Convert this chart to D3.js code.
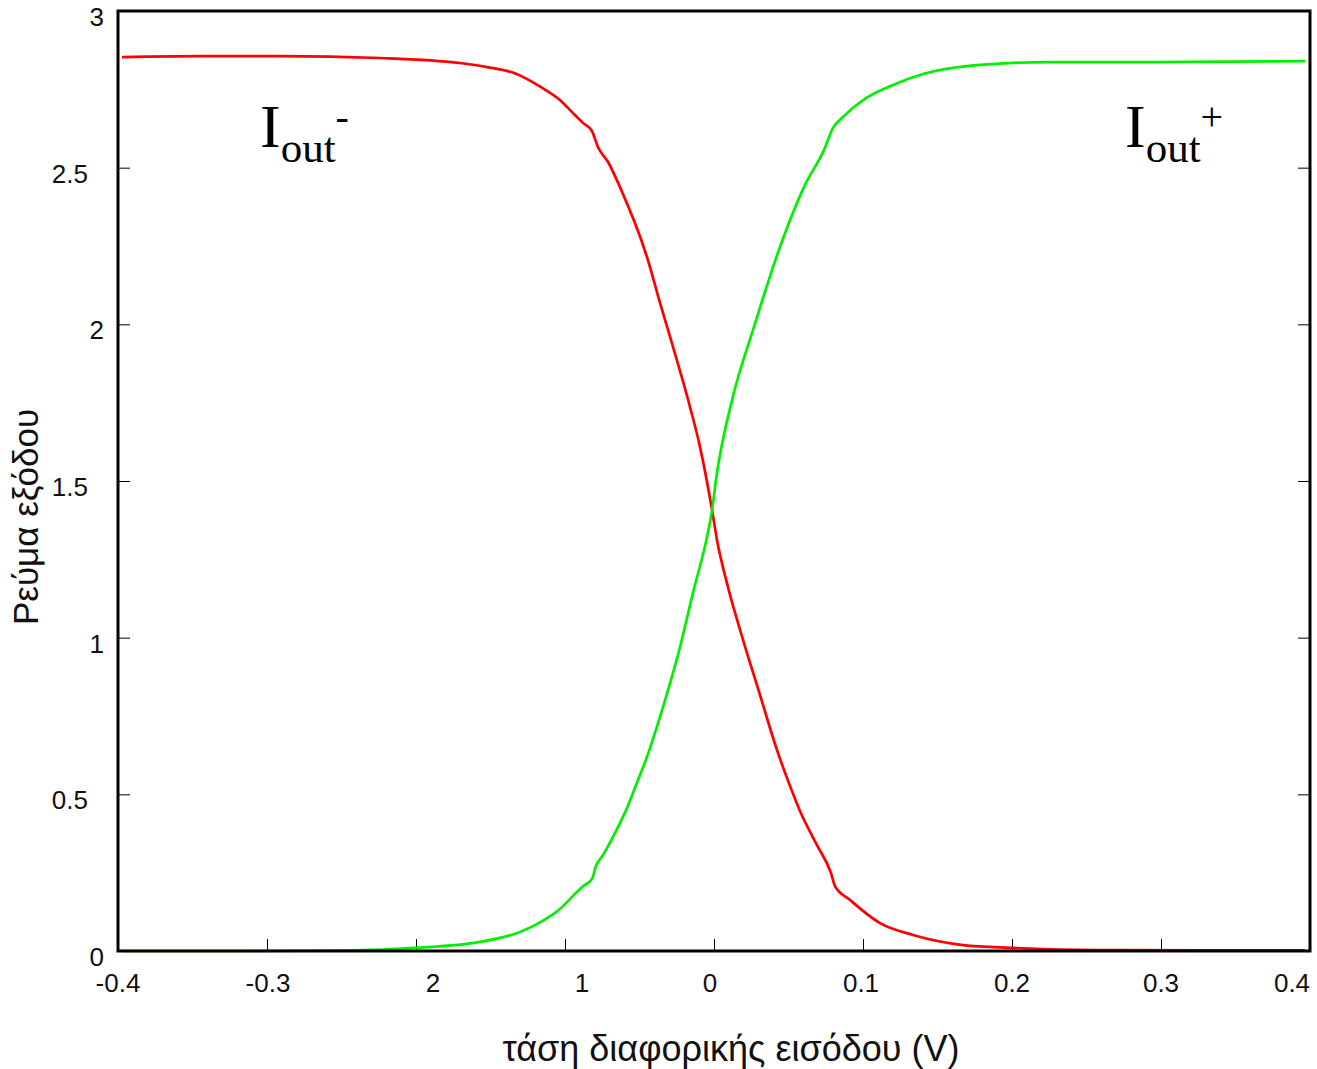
<!DOCTYPE html>
<html>
<head>
<meta charset="utf-8">
<script src="https://cdn.jsdelivr.net/npm/d3@7"></script>
<style>
  html, body { margin: 0; padding: 0; background: #fff; }
  svg { display: block; }
</style>
</head>
<body>
<svg id="chart" width="1317" height="1069"></svg>
<script>
// Differential pair output currents versus differential input voltage.
const xTickValues = [-0.4, -0.3, -0.2, -0.1, 0, 0.1, 0.2, 0.3, 0.4];
const xTickLabels = ["-0.4", "-0.3", "2", "1", "0", "0.1", "0.2", "0.3", "0.4"];
const yTickValues = [0, 0.5, 1, 1.5, 2, 2.5, 3];
const yTickLabels = ["0", "0.5", "1", "1.5", "2", "2.5", "3"];

// I_out- (falling branch)
const vMinus = [-0.3973, -0.3450, -0.2913, -0.2242, -0.1705, -0.1523, -0.1342, -0.1161, -0.1034, -0.0946,
  -0.0879, -0.0819, -0.0779, -0.0711, -0.0631, -0.0450, -0.0362, -0.0275, -0.0161, -0.0094,
  -0.0013, 0.0020, 0.0087, 0.0195, 0.0309, 0.0423, 0.0510, 0.0577, 0.0691, 0.0785,
  0.0812, 0.0913, 0.1114, 0.1336, 0.1671, 0.2007, 0.2591, 0.3262, 0.3966];
const iMinus = [2.853, 2.856, 2.856, 2.850, 2.834, 2.821, 2.802, 2.757, 2.716, 2.674,
  2.643, 2.617, 2.566, 2.518, 2.438, 2.215, 2.068, 1.928, 1.736, 1.609,
  1.407, 1.312, 1.174, 0.993, 0.817, 0.641, 0.527, 0.447, 0.338, 0.249,
  0.207, 0.163, 0.089, 0.051, 0.019, 0.010, 0.003, 0.002, 0.002];

// I_out+ (rising branch)
const vPlus = [-0.3973, -0.3114, -0.2443, -0.2007, -0.1570, -0.1302, -0.1161, -0.1034, -0.0946, -0.0879,
  -0.0819, -0.0792, -0.0745, -0.0664, -0.0584, -0.0510, -0.0450, -0.0342, -0.0228, -0.0141,
  -0.0040, -0.0013, 0.0013, 0.0128, 0.0262, 0.0443, 0.0611, 0.0738, 0.0799, 0.0866,
  0.1020, 0.1201, 0.1403, 0.1785, 0.2255, 0.2926, 0.3966];
const iPlus = [0.000, 0.000, 0.002, 0.010, 0.029, 0.061, 0.093, 0.134, 0.176, 0.207,
  0.230, 0.271, 0.306, 0.377, 0.456, 0.546, 0.619, 0.779, 0.970, 1.143,
  1.337, 1.407, 1.503, 1.771, 1.982, 2.247, 2.445, 2.556, 2.627, 2.662,
  2.722, 2.764, 2.799, 2.828, 2.837, 2.837, 2.840];

const svg = d3.select("#chart");
const plotLeft = 118, plotRight = 1310, plotTop = 11, plotBottom = 951;

const x = d3.scaleLinear().domain([-0.4, 0.4]).range([plotLeft, plotRight]);
const y = d3.scaleLinear().domain([0, 3]).range([plotBottom, plotTop]);

const tickFont = "'Liberation Sans', Arial, sans-serif";

// Bottom axis: inward ticks, labels below
const xAxis = d3.axisBottom(x).tickValues(xTickValues).tickSize(-12).tickFormat("");
svg.append("g").attr("transform", `translate(0,${plotBottom})`).call(xAxis)
  .call(g => g.select(".domain").remove())
  .call(g => g.selectAll(".tick line").attr("stroke", "#000").attr("stroke-width", 1));

const xLabelNudge = [0, 1, 17, 17, -4, -2, 0, 0, -18];
svg.append("g").selectAll("text").data(xTickValues).join("text")
  .attr("x", (d, i) => x(d) + xLabelNudge[i])
  .attr("y", 992)
  .attr("text-anchor", "middle")
  .attr("font-family", tickFont)
  .attr("font-size", 26)
  .attr("fill", "#111")
  .text((d, i) => xTickLabels[i]);

// Left axis: inward ticks, plus mirrored ticks on the right edge
const yAxis = d3.axisLeft(y).tickValues(yTickValues).tickSize(-12).tickFormat("");
svg.append("g").attr("transform", `translate(${plotLeft},0)`).call(yAxis)
  .call(g => g.select(".domain").remove())
  .call(g => g.selectAll(".tick line").attr("stroke", "#000").attr("stroke-width", 1));
const yAxisR = d3.axisRight(y).tickValues(yTickValues).tickSize(-12).tickFormat("");
svg.append("g").attr("transform", `translate(${plotRight},0)`).call(yAxisR)
  .call(g => g.select(".domain").remove())
  .call(g => g.selectAll(".tick line").attr("stroke", "#000").attr("stroke-width", 1));

svg.append("g").selectAll("text").data(yTickValues).join("text")
  .attr("x", d => (d % 1 ? 88 : 104))
  .attr("y", d => y(d) + 15)
  .attr("text-anchor", "end")
  .attr("font-family", tickFont)
  .attr("font-size", 26)
  .attr("fill", "#111")
  .text((d, i) => yTickLabels[i]);

// Curves
const line = d3.line().x(d => x(d[0])).y(d => y(d[1])).curve(d3.curveMonotoneX);
svg.append("path")
  .datum(d3.zip(vMinus, iMinus))
  .attr("d", line).attr("fill", "none")
  .attr("stroke", "#ff0000").attr("stroke-width", 2.7).attr("stroke-linejoin", "round");
svg.append("path")
  .datum(d3.zip(vPlus, iPlus))
  .attr("d", line).attr("fill", "none")
  .attr("stroke", "#00f000").attr("stroke-width", 2.7).attr("stroke-linejoin", "round");

// Frame
svg.append("rect")
  .attr("x", plotLeft).attr("y", plotTop)
  .attr("width", plotRight - plotLeft).attr("height", plotBottom - plotTop)
  .attr("fill", "none").attr("stroke", "#000").attr("stroke-width", 3);

// Curve annotations
const serif = "'Liberation Serif', 'Times New Roman', serif";
function annotate(px, py, sup) {
  const t = svg.append("text")
    .attr("x", px).attr("y", py)
    .attr("font-family", serif).attr("fill", "#000");
  t.append("tspan").attr("font-size", 62).text("I");
  t.append("tspan").attr("font-size", 43).attr("dy", 15).text("out");
  t.append("tspan").attr("font-size", 40).attr("dy", -32).text(sup);
}
annotate(260, 147, "-");
annotate(1125, 147, "+");

// Axis titles
svg.append("text")
  .attr("transform", "translate(38,517) rotate(-90)")
  .attr("text-anchor", "middle")
  .attr("font-family", tickFont)
  .attr("font-size", 35)
  .attr("fill", "#111")
  .text("Ρεύμα εξόδου");
svg.append("text")
  .attr("x", 731).attr("y", 1061)
  .attr("text-anchor", "middle")
  .attr("font-family", tickFont)
  .attr("font-size", 36)
  .attr("fill", "#111")
  .text("τάση διαφορικής εισόδου (V)");
</script>
</body>
</html>
